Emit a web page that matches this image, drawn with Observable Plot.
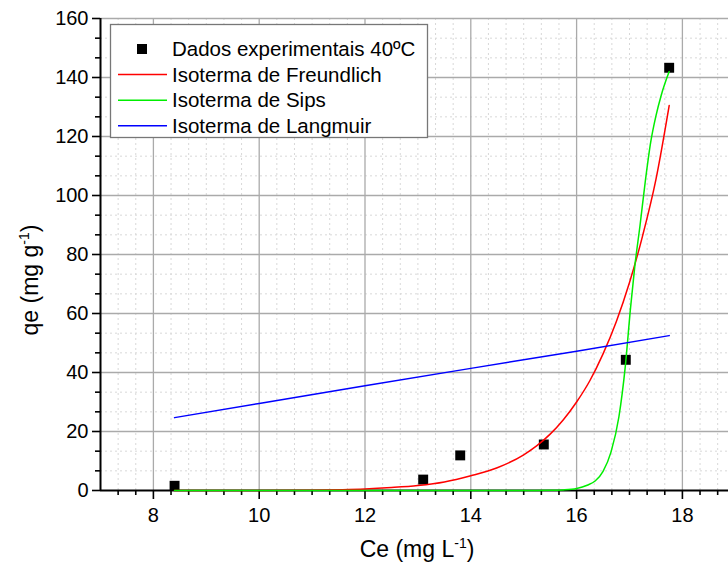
<!DOCTYPE html>
<html>
<head>
<meta charset="utf-8">
<script src="https://cdn.jsdelivr.net/npm/d3@7"></script>
<script src="https://cdn.jsdelivr.net/npm/@observablehq/plot@0.6"></script>
<style>
  html, body { margin: 0; padding: 0; background: #fff; }
  #chart svg { display: block; }
</style>
</head>
<body>
<div id="chart"></div>
<script>
// Experimental data (40 °C)
const expCe = [8.4, 13.1, 13.8, 15.38, 16.93, 17.75];
const expQe = [1.6, 3.7, 11.9, 15.6, 44.3, 143.3];

// Freundlich isotherm
const freCe = [8.4, 10, 11, 12, 12.5, 13, 13.5, 14, 14.5, 15, 15.25, 15.5, 15.75, 16, 16.25, 16.5, 16.75, 17, 17.25, 17.5, 17.75];
const freQe = [0.0, 0.03, 0.12, 0.5, 1.0, 1.7, 2.9, 5.0, 7.7, 12.1, 15.2, 19.1, 24.0, 30.0, 37.2, 46.3, 57.2, 70.5, 86.5, 105.5, 130.5];

// Sips isotherm
const sipCe = [8.4, 14, 15, 15.5, 15.75, 16, 16.2, 16.35, 16.5, 16.65, 16.8, 16.92, 17.02, 17.1, 17.2, 17.3, 17.4, 17.5, 17.6, 17.75];
const sipQe = [0.0, 0.0, 0.01, 0.05, 0.2, 0.7, 1.8, 3.2, 6.5, 13.0, 25.0, 42.0, 62.0, 76.0, 90.0, 105.0, 118.0, 127.0, 134.0, 142.0];

// Langmuir isotherm
const lanCe = [8.4, 10, 12, 14, 16, 17.75];
const lanQe = [24.7, 29.5, 35.5, 41.4, 47.2, 52.5];

const xMajor = [8, 10, 12, 14, 16, 18];
const yMajor = [0, 20, 40, 60, 80, 100, 120, 140, 160];
const xMinor = d3.range(22, 57).filter(i => i % 6 !== 0).map(i => i / 3);
const yMinor = d3.range(1, 24).filter(j => j % 3 !== 0).map(j => j * 20 / 3);

const legendItems = [
  {label: "Dados experimentais 40ºC", type: "square", color: "#000"},
  {label: "Isoterma de Freundlich", type: "line", color: "#ff0000"},
  {label: "Isoterma de Sips", type: "line", color: "#00ee00"},
  {label: "Isoterma de Langmuir", type: "line", color: "#0000ff"}
];

const expData = expCe.map((c, i) => ({c, q: expQe[i]}));
const freData = freCe.map((c, i) => ({c, q: freQe[i]}));
const sipData = sipCe.map((c, i) => ({c, q: sipQe[i]}));
const lanData = lanCe.map((c, i) => ({c, q: lanQe[i]}));

const font = "'Liberation Sans', Arial, sans-serif";

const plot = Plot.plot({
  width: 728,
  height: 570,
  marginLeft: 100,
  marginRight: 0,
  marginTop: 18,
  marginBottom: 80,
  style: {fontFamily: font, fontSize: "20px", color: "#000", background: "#fff", overflow: "visible"},
  x: {domain: [7, 7 + 628 / 52.9], label: null},
  y: {domain: [0, 160], label: null},
  marks: [
    // minor dotted grid
    Plot.ruleX(xMinor, {stroke: "#d8d8d8", strokeWidth: 1, strokeDasharray: "2,3"}),
    Plot.ruleY(yMinor, {stroke: "#d8d8d8", strokeWidth: 1, strokeDasharray: "2,3"}),
    // major grid
    Plot.ruleX(xMajor, {stroke: "#aaaaaa", strokeWidth: 1.3}),
    Plot.ruleY(yMajor.filter(v => v > 0), {stroke: "#aaaaaa", strokeWidth: 1.3}),
    // axes
    Plot.axisX(xMajor, {tickSize: 9, tickPadding: 8, strokeWidth: 1.6, fontSize: 20, label: null}),
    Plot.axisX(xMinor, {tickSize: 5, strokeWidth: 1.6, tickFormat: () => "", label: null}),
    Plot.axisY(yMajor, {tickSize: 8, tickPadding: 4, strokeWidth: 1.6, fontSize: 20, label: null}),
    Plot.axisY(yMinor, {tickSize: 5, strokeWidth: 1.6, tickFormat: () => "", label: null}),
    Plot.ruleY([0], {stroke: "#000", strokeWidth: 2}),
    Plot.ruleX([7], {stroke: "#000", strokeWidth: 2}),
    // data
    Plot.dot(expData, {x: "c", y: "q", symbol: "square", r: 5.6, fill: "#000", stroke: "none"}),
    Plot.line(freData, {x: "c", y: "q", stroke: "#ff0000", strokeWidth: 1.5, curve: "monotone-x"}),
    Plot.line(sipData, {x: "c", y: "q", stroke: "#00ee00", strokeWidth: 1.5, curve: "monotone-x"}),
    Plot.line(lanData, {x: "c", y: "q", stroke: "#0000ff", strokeWidth: 1.5})
  ]
});

document.getElementById("chart").appendChild(plot);

const svg = d3.select(plot);

// Legend
const lg = svg.append("g").attr("font-family", font).attr("font-size", 20.5).attr("text-anchor", "start");
lg.append("rect").attr("x", 110.5).attr("y", 24.5).attr("width", 317).attr("height", 113)
  .attr("fill", "#fff").attr("stroke", "#777").attr("stroke-width", 1.3);
legendItems.forEach((d, i) => {
  const base = 56 + i * 25.6;
  const mid = base - 7;
  if (d.type === "square") {
    lg.append("rect").attr("x", 137).attr("y", mid - 5).attr("width", 10).attr("height", 10).attr("fill", d.color);
  } else {
    lg.append("line").attr("x1", 118).attr("x2", 167).attr("y1", mid).attr("y2", mid)
      .attr("stroke", d.color).attr("stroke-width", 1.5);
  }
  lg.append("text").attr("x", 172).attr("y", base).attr("fill", "#000").attr("text-anchor", "start").text(d.label);
});

// Axis titles
const xt = svg.append("text").attr("x", 417).attr("y", 557).attr("text-anchor", "middle")
  .attr("font-family", font).attr("font-size", 23).attr("fill", "#000");
xt.append("tspan").text("Ce (mg L");
xt.append("tspan").attr("font-size", 14).attr("dy", -9).text("-1");
xt.append("tspan").attr("dy", 9).text(")");

const yt = svg.append("text").attr("transform", "translate(38,280) rotate(-90)").attr("text-anchor", "middle")
  .attr("font-family", font).attr("font-size", 23).attr("fill", "#000");
yt.append("tspan").text("qe (mg g");
yt.append("tspan").attr("font-size", 14).attr("dy", -9).text("-1");
yt.append("tspan").attr("dy", 9).text(")");
</script>
</body>
</html>
